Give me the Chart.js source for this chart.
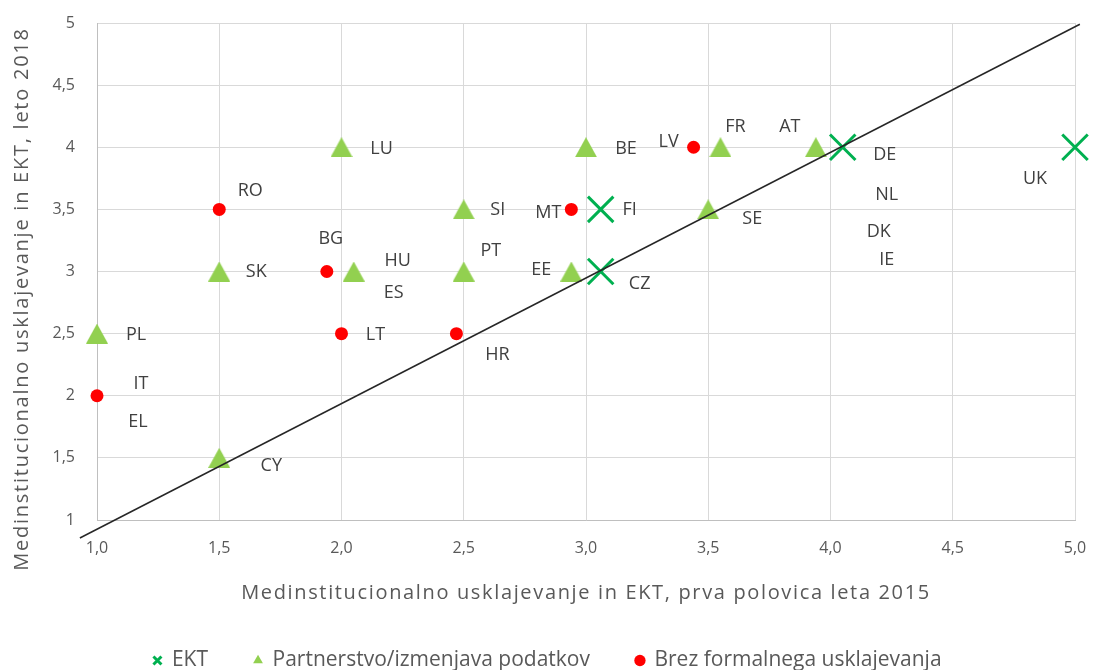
<!DOCTYPE html>
<html>
<head>
<meta charset="utf-8">
<script src="https://cdn.jsdelivr.net/npm/chart.js@4.4.1/dist/chart.umd.min.js"></script>
<style>
  html, body { margin: 0; padding: 0; background: #fff; }
  #wrap { width: 1093px; height: 670px; }
</style>
</head>
<body>
<div id="wrap"><canvas id="myChart" width="1093" height="670"></canvas></div>
<script>
// EKT
const ektX = [3.06, 3.06, 4.05, 5.0];
const ektY = [3.5, 3.0, 4.0, 4.0];
const ektNames = [['FI'], ['CZ'], ['DE', 'NL', 'DK', 'IE'], ['UK']];

// Partnerstvo/izmenjava podatkov
const partX = [2.0, 3.0, 3.55, 3.94, 2.5, 3.5, 1.5, 2.05, 2.5, 2.94, 1.0, 1.5];
const partY = [4.0, 4.0, 4.0, 4.0, 3.5, 3.5, 3.0, 3.0, 3.0, 3.0, 2.5, 1.5];
const partNames = [['LU'], ['BE'], ['FR'], ['AT'], ['SI'], ['SE'], ['SK'], ['HU', 'ES'], ['PT'], ['EE'], ['PL'], ['CY']];

// Brez formalnega usklajevanja
const brezX = [1.5, 1.94, 2.0, 2.47, 1.0, 2.94, 3.44];
const brezY = [3.5, 3.0, 2.5, 2.5, 2.0, 3.5, 4.0];
const brezNames = [['RO'], ['BG'], ['LT'], ['HR'], ['IT', 'EL'], ['MT'], ['LV']];

// reference line
const lineX = [0.93, 5.02];
const lineY = [0.855, 4.99];

const xTicks = [1.0, 1.5, 2.0, 2.5, 3.0, 3.5, 4.0, 4.5, 5.0];
const yTicks = [1, 1.5, 2, 2.5, 3, 3.5, 4, 4.5, 5];

const xTitle = 'Medinstitucionalno usklajevanje in EKT, prva polovica leta 2015';
const yTitle = 'Medinstitucionalno usklajevanje in EKT, leto 2018';

// label offsets in px from the marker (one pair per text line)
const ektOffsets = [[[29, 0]], [[39, 12]], [[42, 8], [44, 48], [36, 85], [44, 113]], [[-40, 32]]];
const partOffsets = [[[40, 2]], [[40, 2]], [[15, -20]], [[-26, -20]], [[34, 0]], [[44, 9]],
  [[37, 0]], [[44, -11], [40, 21]], [[27, -21]], [[-30, -2]], [[39, 1]], [[52, 8]]];
const brezOffsets = [[[31, -19]], [[4, -33]], [[34, 1]], [[41, 21]], [[44, -12], [41, 26]], [[-23, 3]], [[-25, -5]]];

const GREEN_X = '#00B050';
const GREEN_T = '#92D050';
const RED = '#FF0000';

function pts(xs, ys) {
  return xs.map((x, i) => ({x: x, y: ys[i]}));
}

function triangleImg(w, h, color) {
  const c = document.createElement('canvas');
  c.width = w;
  c.height = h;
  const g = c.getContext('2d');
  g.fillStyle = color;
  g.beginPath();
  g.moveTo(w / 2, 0);
  g.lineTo(w, h);
  g.lineTo(0, h);
  g.closePath();
  g.fill();
  return c;
}

const pointLabels = {
  id: 'pointLabels',
  afterDatasetsDraw(chart) {
    const ctx = chart.ctx;
    ctx.save();
    ctx.font = '18px "Open Sans"';
    ctx.fillStyle = '#404040';
    ctx.textAlign = 'center';
    ctx.textBaseline = 'middle';
    chart.data.datasets.forEach((ds, i) => {
      if (!ds.names) return;
      const meta = chart.getDatasetMeta(i);
      ds.names.forEach((lines, j) => {
        const el = meta.data[j];
        lines.forEach((t, k) => {
          const off = ds.offsets[j][k];
          ctx.fillText(t, el.x + off[0], el.y + off[1]);
        });
      });
    });
    ctx.restore();
  }
};

// axis titles, drawn by hand so the y title can sit where the original has it
const axisTitles = {
  id: 'axisTitles',
  afterDraw(chart) {
    const ctx = chart.ctx;
    const area = chart.chartArea;
    ctx.save();
    ctx.font = '20px "Open Sans"';
    ctx.fillStyle = '#595959';
    ctx.textAlign = 'center';
    ctx.textBaseline = 'middle';
    ctx.letterSpacing = '1.65px';
    ctx.fillText(xTitle, (area.left + area.right) / 2, 593);
    ctx.translate(22, 299);
    ctx.rotate(-Math.PI / 2);
    ctx.letterSpacing = '1.75px';
    ctx.fillText(yTitle, 0, 0);
    ctx.restore();
  }
};

const data = {
  datasets: [
    {
      type: 'line',
      label: 'line',
      data: pts(lineX, lineY),
      borderColor: '#262626',
      borderWidth: 1.5,
      pointRadius: 0,
      fill: false,
      clip: false,
      order: 0
    },
    {
      label: 'EKT',
      data: pts(ektX, ektY),
      pointStyle: 'crossRot',
      pointRadius: 18,
      pointBorderWidth: 3,
      borderColor: GREEN_X,
      backgroundColor: GREEN_X,
      clip: false,
      order: 1,
      names: ektNames,
      offsets: ektOffsets
    },
    {
      label: 'Partnerstvo/izmenjava podatkov',
      data: pts(partX, partY),
      pointStyle: triangleImg(22, 20, GREEN_T),
      pointRadius: 11,
      borderColor: GREEN_T,
      backgroundColor: GREEN_T,
      clip: false,
      order: 2,
      names: partNames,
      offsets: partOffsets
    },
    {
      label: 'Brez formalnega usklajevanja',
      data: pts(brezX, brezY),
      pointStyle: 'circle',
      pointRadius: 6.5,
      pointBorderWidth: 0,
      borderColor: RED,
      backgroundColor: RED,
      clip: false,
      order: 3,
      names: brezNames,
      offsets: brezOffsets
    }
  ]
};

const legendItems = [
  {text: 'EKT', pointStyle: 'crossRot', fillStyle: GREEN_X, strokeStyle: GREEN_X, lineWidth: 3, datasetIndex: 1},
  {text: 'Partnerstvo/izmenjava podatkov', pointStyle: 'triangle', fillStyle: GREEN_T, strokeStyle: GREEN_T, lineWidth: 0, datasetIndex: 2},
  {text: 'Brez formalnega usklajevanja', pointStyle: 'circle', fillStyle: RED, strokeStyle: RED, lineWidth: 0, datasetIndex: 3}
];

const config = {
  type: 'scatter',
  data,
  options: {
    responsive: false,
    animation: false,
    layout: {autoPadding: false, padding: {left: 20, right: 18, top: 23, bottom: -11}},
    plugins: {
      tooltip: {enabled: false},
      legend: {
        position: 'bottom',
        labels: {
          usePointStyle: true,
          boxWidth: 8,
          boxHeight: 8,
          padding: 46,
          color: '#595959',
          font: {size: 21, family: '"Open Sans"'},
          generateLabels: () => legendItems.map(it => Object.assign({hidden: false, fontColor: '#595959'}, it))
        }
      }
    },
    scales: {
      x: {
        type: 'linear',
        min: 1,
        max: 5,
        afterBuildTicks: s => { s.ticks = xTicks.map(v => ({value: v})); },
        afterFit: s => { s.height = 84; s.paddingLeft = 0; s.paddingRight = 0; },
        grid: {color: '#d9d9d9', drawTicks: false},
        border: {color: '#bfbfbf'},
        ticks: {
          padding: 19,
          color: '#595959',
          font: {size: 16, family: '"Open Sans"'},
          callback: v => v.toFixed(1).replace('.', ',')
        }
      },
      y: {
        type: 'linear',
        min: 1,
        max: 5,
        afterBuildTicks: s => { s.ticks = yTicks.map(v => ({value: v})); },
        afterFit: s => { s.width = 77; s.paddingTop = 0; s.paddingBottom = 0; },
        grid: {color: '#d9d9d9', drawTicks: false},
        border: {color: '#bfbfbf'},
        ticks: {
          padding: 22,
          color: '#595959',
          font: {size: 16, family: '"Open Sans"'},
          callback: v => String(v).replace('.', ',')
        }
      }
    }
  },
  plugins: [pointLabels, axisTitles]
};

new Chart(document.getElementById('myChart'), config);
</script>
</body>
</html>
